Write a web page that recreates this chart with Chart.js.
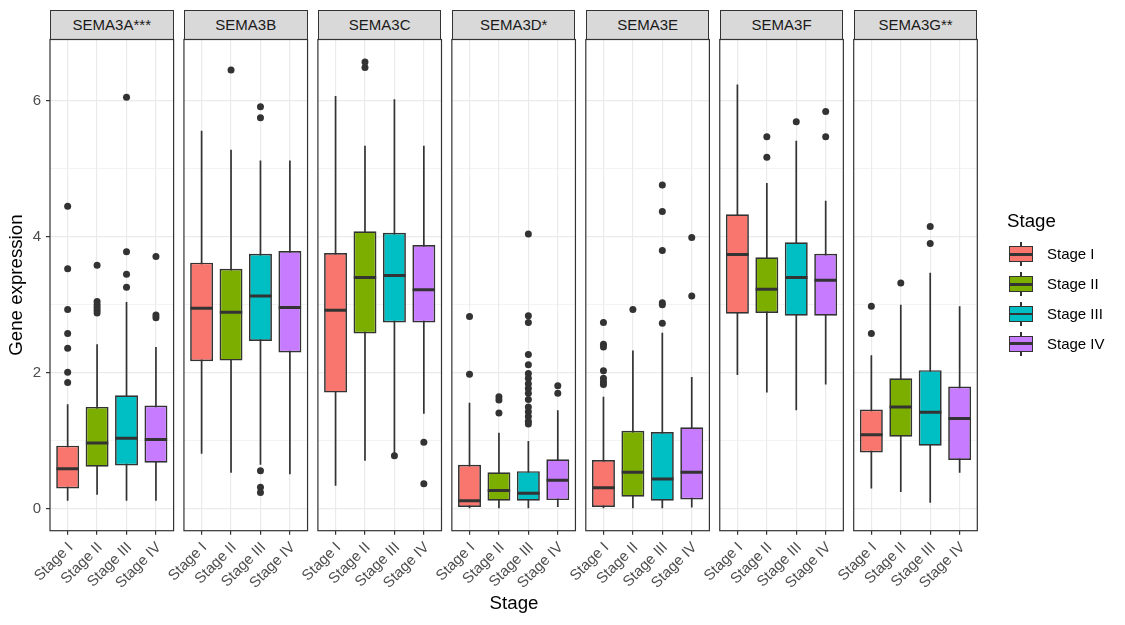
<!DOCTYPE html>
<html>
<head>
<meta charset="utf-8">
<script src="https://cdn.jsdelivr.net/npm/chart.js@4.4.1/dist/chart.umd.min.js"></script>
<style>
  body { margin: 0; background: #fff; font-family: "Liberation Sans", Arial, sans-serif; }
  #wrap { position: relative; width: 1125px; height: 625px; overflow: hidden; }
  #wrap canvas { position: absolute; left: 0; top: 0; }
  .strip { position: absolute; top: 9.7px; height: 30px; box-sizing: border-box; border: 1.1px solid #333;
           background: #d9d9d9; color: #1a1a1a; font-size: 15px; display: flex; align-items: center; justify-content: center; }
  .title { position: absolute; font-size: 18.7px; line-height: 1; color: #000; white-space: nowrap; }
  .key { position: absolute; width: 24px; height: 24px; }
  .key .wh { position: absolute; left: 11.2px; top: 0; width: 1.6px; height: 24px; background: #333; }
  .key .bx { position: absolute; left: 0; top: 4px; width: 24px; height: 16px; box-sizing: border-box; border: 1.6px solid #333; }
  .key .md { position: absolute; left: 0; top: 10.6px; width: 24px; height: 2.8px; background: #333; }
  .lab { position: absolute; font-size: 15px; line-height: 20px; color: #000; white-space: nowrap; }
</style>
</head>
<body>
<div id="wrap"></div>
<script>
const genes = ['SEMA3A***', 'SEMA3B', 'SEMA3C', 'SEMA3D*', 'SEMA3E', 'SEMA3F', 'SEMA3G**'];
const stages = ['Stage I', 'Stage II', 'Stage III', 'Stage IV'];
const stageColors = ['#F8766D', '#7CAE00', '#00BFC4', '#C77CFF'];

// one row per gene, one value per stage
const whiskerLow = [
  [0.12, 0.21, 0.12, 0.12],
  [0.81, 0.53, 0.65, 0.51],
  [0.34, 0.71, 0.82, 1.40],
  [0.00, 0.00, 0.00, 0.03],
  [0.00, 0.00, 0.00, 0.02],
  [1.97, 1.71, 1.45, 1.83],
  [0.30, 0.25, 0.09, 0.53]
];
const lowerQuartile = [
  [0.30, 0.62, 0.64, 0.68],
  [2.17, 2.18, 2.47, 2.30],
  [1.71, 2.58, 2.74, 2.74],
  [0.03, 0.12, 0.12, 0.13],
  [0.03, 0.18, 0.12, 0.14],
  [2.87, 2.88, 2.84, 2.84],
  [0.83, 1.06, 0.93, 0.72]
];
const median = [
  [0.59, 0.97, 1.04, 1.02],
  [2.95, 2.89, 3.13, 2.96],
  [2.92, 3.40, 3.43, 3.22],
  [0.12, 0.27, 0.23, 0.42],
  [0.31, 0.54, 0.44, 0.54],
  [3.74, 3.23, 3.40, 3.36],
  [1.09, 1.50, 1.42, 1.33]
];
const upperQuartile = [
  [0.93, 1.50, 1.67, 1.52],
  [3.62, 3.53, 3.75, 3.79],
  [3.76, 4.08, 4.06, 3.88],
  [0.65, 0.54, 0.555, 0.73],
  [0.72, 1.15, 1.13, 1.20],
  [4.33, 3.70, 3.92, 3.75],
  [1.46, 1.92, 2.04, 1.80]
];
const whiskerHigh = [
  [1.54, 2.42, 3.04, 2.38],
  [5.56, 5.28, 5.12, 5.12],
  [6.07, 5.34, 6.02, 5.34],
  [1.56, 1.12, 1.00, 1.45],
  [1.65, 2.33, 2.59, 1.94],
  [6.24, 4.79, 5.41, 4.53],
  [2.26, 3.00, 3.47, 2.98]
];
const outliers = [
  [[4.45, 3.53, 2.93, 2.58, 2.36, 2.01, 1.86], [3.58, 3.05, 3.00, 2.96, 2.92, 2.88], [6.05, 3.78, 3.45, 3.26], [3.71, 2.85, 2.81]],
  [[], [6.45], [5.91, 5.75, 0.56, 0.32, 0.24], []],
  [[], [6.57, 6.49], [0.78], [0.98, 0.37]],
  [[2.83, 1.98], [1.65, 1.60, 1.41], [4.04, 2.84, 2.74, 2.27, 2.12, 1.99, 1.92, 1.84, 1.77, 1.70, 1.61, 1.50, 1.43, 1.36, 1.29, 1.25], [1.81, 1.70]],
  [[2.74, 2.42, 2.38, 2.03, 1.92, 1.87, 1.83], [2.93], [4.76, 4.37, 3.80, 3.03, 3.00, 2.73], [3.99, 3.13]],
  [[], [5.47, 5.17], [5.69], [5.84, 5.47]],
  [[2.98, 2.58], [3.32], [4.15, 3.90], []]
];
const yTicks = [0, 1, 2, 3, 4, 5, 6];

const family = '"Liberation Sans", Arial, sans-serif';
const panelLeft = 50, panelWidth = 123.6, panelStep = 133.95;
const plotTop = 39.5, plotBottom = 530.7;
const wrap = document.getElementById('wrap');

const panelBorder = {
  id: 'panelBorder',
  afterDatasetsDraw(chart) {
    const { ctx, chartArea: a } = chart;
    ctx.save();
    ctx.strokeStyle = '#333';
    ctx.lineWidth = 1.2;
    ctx.strokeRect(a.left, a.top, a.right - a.left, a.bottom - a.top);
    ctx.restore();
  }
};

genes.forEach((gene, i) => {
  const left = panelLeft + i * panelStep;
  const first = i === 0;
  const xs = stages.map((s, j) => j + 1);

  const strip = document.createElement('div');
  strip.className = 'strip';
  strip.style.left = left + 'px';
  strip.style.width = panelWidth + 'px';
  strip.textContent = gene;
  wrap.appendChild(strip);

  const canvas = document.createElement('canvas');
  canvas.width = 1125;
  canvas.height = 625;
  wrap.appendChild(canvas);

  new Chart(canvas, {
    type: 'bar',
    data: {
      datasets: [
        {
          label: 'whisker',
          data: xs.map((x, j) => ({ x, y: [whiskerLow[i][j], whiskerHigh[i][j]] })),
          backgroundColor: '#333',
          grouped: false,
          maxBarThickness: 1.7,
          order: 3
        },
        {
          label: 'box',
          data: xs.map((x, j) => ({ x, y: [lowerQuartile[i][j], upperQuartile[i][j]] })),
          backgroundColor: stageColors,
          borderColor: '#333',
          borderWidth: 1.7,
          borderSkipped: false,
          grouped: false,
          barPercentage: 0.78,
          categoryPercentage: 1,
          order: 2
        },
        {
          type: 'scatter',
          label: 'median',
          data: xs.map((x, j) => ({ x, y: median[i][j] })),
          pointStyle: 'line',
          pointRadius: 11.2,
          borderColor: '#333',
          borderWidth: 3,
          order: 1
        },
        {
          type: 'scatter',
          label: 'outlier',
          data: outliers[i].flatMap((vals, j) => vals.map(y => ({ x: j + 1, y }))),
          pointRadius: 3.5,
          backgroundColor: '#333',
          borderWidth: 0,
          order: 0
        }
      ]
    },
    options: {
      responsive: false,
      animation: false,
      layout: { padding: { left: first ? 0 : left, right: 1125 - left - panelWidth, top: plotTop, bottom: 0 } },
      plugins: { legend: { display: false }, tooltip: { enabled: false } },
      scales: {
        x: {
          type: 'linear', min: 0.4, max: 4.6, offset: false,
          afterBuildTicks: s => { s.ticks = xs.map(v => ({ value: v })); },
          afterFit: s => { s.height = 625 - plotBottom; },
          grid: { offset: false, color: '#EBEBEB', lineWidth: 1.2, tickColor: '#333', tickLength: 4, tickWidth: 1.2 },
          border: { display: false },
          ticks: {
            callback: v => stages[v - 1],
            autoSkip: false, minRotation: 45, maxRotation: 45,
            color: '#4D4D4D', font: { size: 15, family }, padding: 4, labelOffset: 3
          }
        },
        y: {
          min: -0.32, max: 6.9,
          afterBuildTicks: s => { s.ticks = yTicks.map(v => ({ value: v })); },
          afterFit: s => { s.width = first ? left : 0; },
          grid: {
            color: '#EBEBEB',
            lineWidth: c => c.tick.value % 2 === 0 ? 1.2 : 0.6,
            drawTicks: first,
            tickColor: c => c.tick.value % 2 === 0 ? '#333' : 'rgba(0,0,0,0)',
            tickLength: 4, tickWidth: 1.2
          },
          border: { display: false },
          ticks: {
            display: first,
            callback: v => v % 2 === 0 ? v : '',
            color: '#4D4D4D', font: { size: 15, family }, padding: 5
          },
          title: {
            display: first, text: 'Gene expression', color: '#000',
            font: { size: 18.7, family }, padding: { top: 6, bottom: 0 }
          }
        }
      }
    },
    plugins: [panelBorder]
  });
});

// x axis title
const xTitle = document.createElement('div');
xTitle.className = 'title';
xTitle.textContent = 'Stage';
xTitle.style.left = '514px';
xTitle.style.top = '594px';
xTitle.style.transform = 'translateX(-50%)';
wrap.appendChild(xTitle);

// legend
const legTitle = document.createElement('div');
legTitle.className = 'title';
legTitle.textContent = 'Stage';
legTitle.style.left = '1007px';
legTitle.style.top = '212px';
wrap.appendChild(legTitle);

stages.forEach((s, k) => {
  const cy = 254.3 + k * 29.85;
  const key = document.createElement('div');
  key.className = 'key';
  key.style.left = '1009px';
  key.style.top = (cy - 12) + 'px';
  key.innerHTML = '<div class="wh"></div><div class="bx" style="background:' + stageColors[k] + '"></div><div class="md"></div>';
  wrap.appendChild(key);

  const lab = document.createElement('div');
  lab.className = 'lab';
  lab.textContent = s;
  lab.style.left = '1047px';
  lab.style.top = (cy - 10) + 'px';
  wrap.appendChild(lab);
});
</script>
</body>
</html>
